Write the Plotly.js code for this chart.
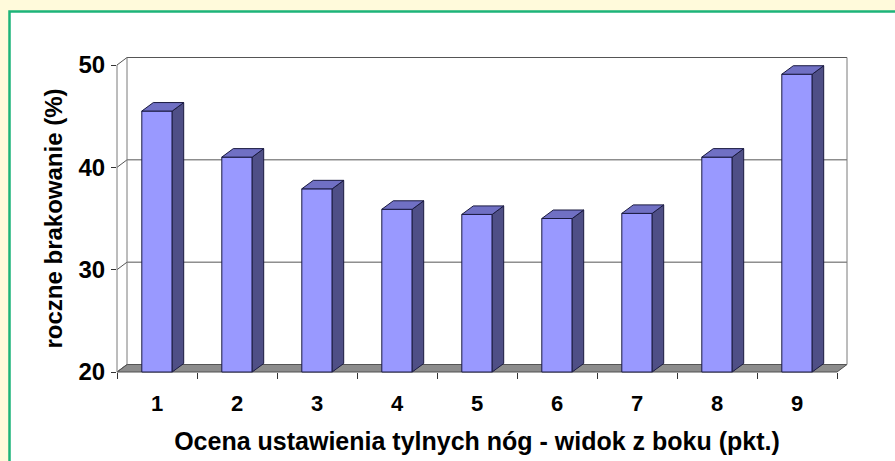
<!DOCTYPE html>
<html>
<head>
<meta charset="utf-8">
<script src="https://cdn.plot.ly/plotly-3.0.1.min.js"></script>
<style>html,body{margin:0;padding:0;background:#FFFADB;}#chart{width:895px;height:461px;}</style>
</head>
<body>
<div id="chart"></div>
<script>
// ---- data ----
const categories = ['1','2','3','4','5','6','7','8','9'];
const values = [45.5, 41.0, 37.9, 35.9, 35.4, 35.0, 35.5, 41.0, 49.1];
const yTickVals = [20, 30, 40, 50];
const xTitle = 'Ocena ustawienia tylnych nóg - widok z boku (pkt.)';
const yTitle = 'roczne brakowanie (%)';

// ---- geometry (pixels) ----
const W = 895, H = 461;
const PXX = 80;        // px per category unit
const PXY = 10.233;    // px per value unit
const X0PX = 117;      // pixel of x=0.5 (front floor left)
const Y0PX = 372;      // pixel of y=20 (front floor edge)
const YMIN = 20, YMAX = 50;
const DXW = 10 / PXX, DYW = 7.5 / PXY;   // wall depth
const BDX = 11.5 / PXX, BDY = 8.5 / PXY; // bar depth
const HW = 0.19;                          // half bar width

const pos = categories.map((c, i) => i + 1);
const nCat = categories.length;
const xr = [0.4, nCat + 0.75];
const yr = [19.5, YMAX + 1.2];
const xdom = [(X0PX + (xr[0] - 0.5) * PXX) / W, (X0PX + (xr[1] - 0.5) * PXX) / W];
const ydom = [1 - (Y0PX - (yr[0] - YMIN) * PXY) / H, 1 - (Y0PX - (yr[1] - YMIN) * PXY) / H];

const font = {family: 'Liberation Sans, Arial, sans-serif', color: '#000', weight: 'bold'};

// ---- anchor trace for the front (labelled) axes ----
const axisTrace = {
  type: 'scatter', xaxis: 'x', yaxis: 'y', mode: 'markers', hoverinfo: 'skip',
  x: pos, y: values, marker: {opacity: 0, size: 1}
};

// ---- walls / floor / grid (subplot x2y2) ----
const xL = 0.5, xR = nCat + 0.5;
const floorTrace = {
  type: 'scatter', xaxis: 'x2', yaxis: 'y2', mode: 'lines', hoverinfo: 'skip',
  x: [xL, xR, xR + DXW, xL + DXW, xL], y: [YMIN, YMIN, YMIN + DYW, YMIN + DYW, YMIN],
  fill: 'toself', fillcolor: '#8C8C8C', line: {color: '#505050', width: 1}
};
const gx = [], gy = [];
yTickVals.forEach(v => {
  gx.push(xL, xL + DXW, xR + DXW, null);
  gy.push(v, v + DYW, v + DYW, null);
});
const gridTrace = {
  type: 'scatter', xaxis: 'x2', yaxis: 'y2', mode: 'lines', hoverinfo: 'skip',
  x: gx, y: gy, line: {color: '#555555', width: 1}
};
const wallTrace = {
  type: 'scatter', xaxis: 'x2', yaxis: 'y2', mode: 'lines', hoverinfo: 'skip',
  x: [xL + DXW, xL + DXW, null, xR + DXW, xR + DXW, null, xL, xL],
  y: [YMIN + DYW, YMAX + DYW, null, YMIN + DYW, YMAX + DYW, null, YMIN, YMAX],
  line: {color: '#7A7A7A', width: 1}
};

// ---- bars (subplot x3y3) ----
const frontTrace = {
  type: 'bar', xaxis: 'x3', yaxis: 'y3', hoverinfo: 'skip',
  x: pos, y: values.map(v => v - YMIN), base: YMIN, width: 2 * HW,
  marker: {color: '#9999FF', line: {color: '#1A1A40', width: 1}}
};
const sx = [], sy = [], tx = [], ty = [];
pos.forEach((p, i) => {
  const v = values[i];
  sx.push(p + HW, p + HW + BDX, p + HW + BDX, p + HW, p + HW, null);
  sy.push(YMIN, YMIN + BDY, v + BDY, v, YMIN, null);
  tx.push(p - HW, p + HW, p + HW + BDX, p - HW + BDX, p - HW, null);
  ty.push(v, v, v + BDY, v + BDY, v, null);
});
const sideTrace = {
  type: 'scatter', xaxis: 'x3', yaxis: 'y3', mode: 'lines', hoverinfo: 'skip',
  x: sx, y: sy, fill: 'toself', fillcolor: '#4F4F86', line: {color: '#1A1A40', width: 1}
};
const topTrace = {
  type: 'scatter', xaxis: 'x3', yaxis: 'y3', mode: 'lines', hoverinfo: 'skip',
  x: tx, y: ty, fill: 'toself', fillcolor: '#7070C4', line: {color: '#1A1A40', width: 1}
};

const hidden = (extra) => Object.assign({visible: false, fixedrange: true}, extra);

const layout = {
  width: W, height: H,
  margin: {l: 0, r: 0, t: 0, b: 0},
  paper_bgcolor: '#FFFADB',
  plot_bgcolor: 'rgba(0,0,0,0)',
  showlegend: false,
  shapes: [{
    type: 'rect', xref: 'paper', yref: 'paper', layer: 'below',
    x0: 9.5 / W, x1: 1.2, y0: -0.2, y1: 1 - 11.5 / H,
    fillcolor: '#FFFFFF', line: {color: '#1DB47A', width: 2.5}
  }],
  xaxis: {
    domain: [X0PX / W, (X0PX + nCat * PXX) / W], range: [0.5, nCat + 0.5],
    tickmode: 'array', tickvals: pos, ticktext: categories, ticks: '',
    ticklabelstandoff: 16,
    minor: {tickmode: 'array', tickvals: pos.map(p => p - 0.5).concat([nCat + 0.5]), ticks: 'outside', ticklen: 6, tickcolor: '#333', tickwidth: 1},
    showgrid: false, zeroline: false, showline: false,
    tickfont: Object.assign({size: 22}, font),
    title: {text: xTitle, font: Object.assign({size: 25}, font), standoff: 17},
    fixedrange: true
  },
  yaxis: {
    domain: [1 - Y0PX / H, 1 - (Y0PX - (YMAX - YMIN) * PXY) / H], range: [YMIN, YMAX],
    tickmode: 'array', tickvals: yTickVals, ticktext: yTickVals.map(String),
    ticks: 'outside', ticklen: 5, tickcolor: '#333', ticklabelstandoff: 1,
    showgrid: false, zeroline: false, showline: false,
    tickfont: Object.assign({size: 24}, font),
    title: {text: yTitle, font: Object.assign({size: 24}, font), standoff: 9},
    fixedrange: true
  },
  xaxis2: hidden({domain: xdom, range: xr, anchor: 'y2'}),
  yaxis2: hidden({domain: ydom, range: yr, anchor: 'x2'}),
  xaxis3: hidden({domain: xdom, range: xr, anchor: 'y3'}),
  yaxis3: hidden({domain: ydom, range: yr, anchor: 'x3'})
};

Plotly.newPlot('chart', [axisTrace, floorTrace, gridTrace, wallTrace, frontTrace, sideTrace, topTrace], layout, {staticPlot: true, displayModeBar: false});
</script>
</body>
</html>
